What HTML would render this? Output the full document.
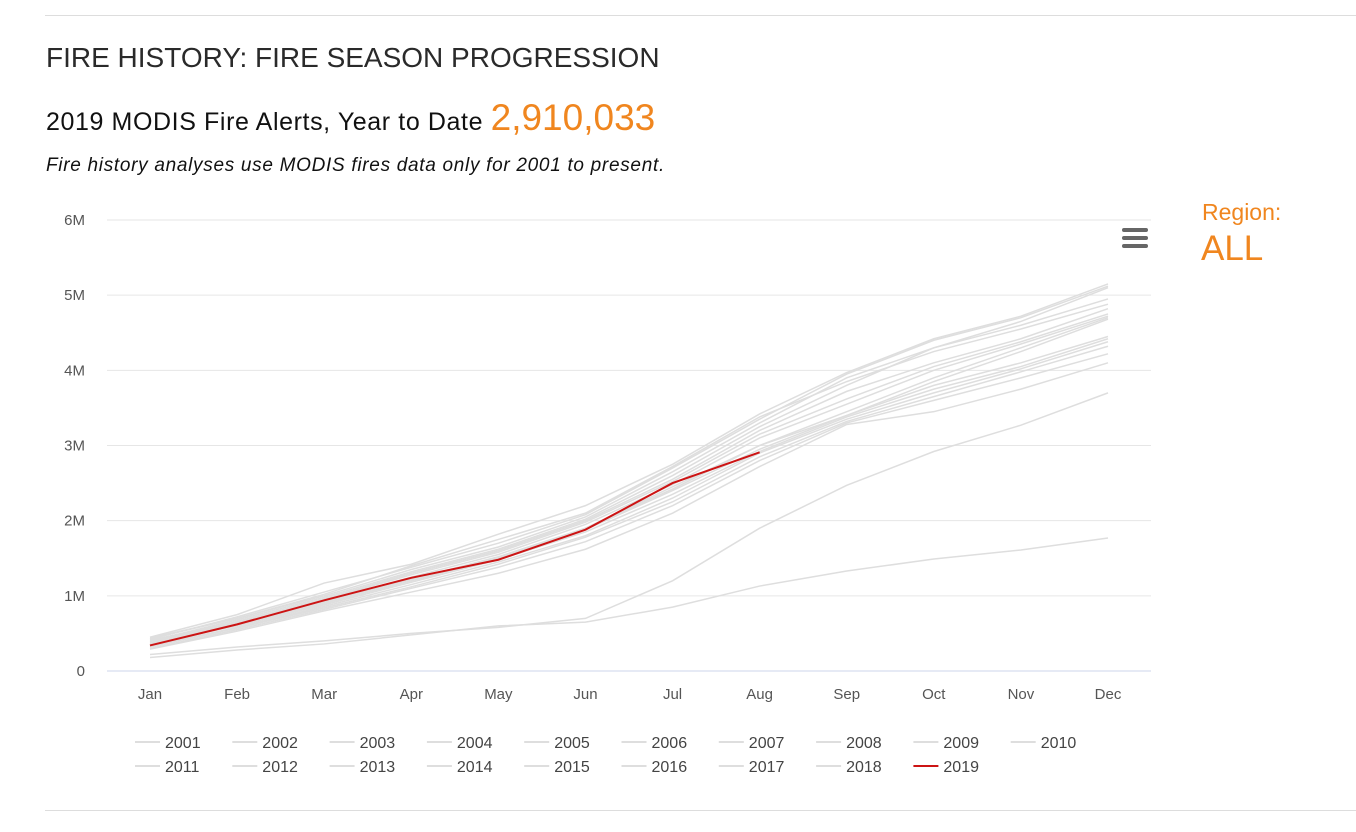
<!DOCTYPE html>
<html><head><meta charset="utf-8"><style>
body{margin:0;width:1356px;height:832px;background:#fff;font-family:"Liberation Sans",sans-serif;position:relative;overflow:hidden}
.abs{position:absolute;white-space:nowrap}
</style></head><body>
<div class="abs" style="left:45px;top:15px;width:1311px;height:1px;background:#ddd"></div>
<div class="abs" style="left:46px;top:42px;font-size:28px;color:#2a2a2a;letter-spacing:0px">FIRE HISTORY: FIRE SEASON PROGRESSION</div>
<div class="abs" style="left:46px;top:97px;font-size:25px;color:#111;letter-spacing:0.6px">2019 MODIS Fire Alerts, Year to Date <span style="color:#f0861f;font-size:37px;letter-spacing:0">2,910,033</span></div>
<div class="abs" style="left:46px;top:155px;font-size:19px;font-style:italic;color:#111;letter-spacing:0.7px">Fire history analyses use MODIS fires data only for 2001 to present.</div>
<div class="abs" style="left:1202px;top:199px;font-size:23px;color:#f0861f">Region:</div>
<div class="abs" style="left:1201px;top:229px;font-size:35px;color:#f0861f">ALL</div>
<div class="abs" style="left:45px;top:810px;width:1311px;height:1px;background:#ddd"></div>
<svg id="chart" class="abs" style="left:0;top:0" width="1356" height="832"></svg>
<script>
const months=["Jan","Feb","Mar","Apr","May","Jun","Jul","Aug","Sep","Oct","Nov","Dec"];
const yTicks=[0,1,2,3,4,5,6];
const yTickLabels=["0","1M","2M","3M","4M","5M","6M"];
const years=["2001","2002","2003","2004","2005","2006","2007","2008","2009","2010","2011","2012","2013","2014","2015","2016","2017","2018","2019"];
const s2001=[.18,.28,.36,.48,.6,.65,.85,1.13,1.33,1.49,1.61,1.77];
const s2002=[.22,.32,.4,.5,.58,.7,1.2,1.9,2.47,2.92,3.27,3.7];
const s2003=[.45,.75,1.17,1.42,1.82,2.2,2.75,3.42,3.97,4.42,4.72,5.15];
const s2004=[.42,.72,1.05,1.38,1.7,2.08,2.7,3.35,3.95,4.4,4.7,5.12];
const s2005=[.44,.70,1.0,1.35,1.65,2.05,2.65,3.3,3.9,4.3,4.65,5.1];
const s2006=[.40,.68,.98,1.32,1.62,2.02,2.6,3.25,3.8,4.3,4.6,4.95];
const s2007=[.38,.66,.96,1.3,1.6,2.0,2.55,3.2,3.72,4.1,4.42,4.82];
const s2008=[.41,.65,.95,1.28,1.58,1.98,2.52,3.15,3.62,4.05,4.38,4.75];
const s2009=[.36,.64,.93,1.25,1.55,1.95,2.48,3.1,3.55,4.0,4.35,4.72];
const s2010=[.39,.63,.92,1.22,1.52,1.9,2.42,3.0,3.45,3.9,4.3,4.7];
const s2011=[.35,.62,.90,1.2,1.5,1.88,2.4,2.95,3.4,3.8,4.1,4.45];
const s2012=[.37,.60,.88,1.18,1.48,1.85,2.35,2.92,3.38,3.75,4.05,4.42];
const s2013=[.33,.58,.86,1.15,1.45,1.8,2.3,2.9,3.35,3.7,4.02,4.38];
const s2014=[.32,.57,.84,1.12,1.42,1.78,2.25,2.85,3.32,3.65,3.98,4.32];
const s2015=[.30,.55,.82,1.1,1.38,1.72,2.2,2.8,3.3,3.6,3.9,4.22];
const s2016=[.29,.53,.8,1.05,1.3,1.62,2.1,2.72,3.28,3.45,3.75,4.1];
const s2017=[.43,.70,1.02,1.4,1.75,2.1,2.72,3.38,3.85,4.25,4.55,4.88];
const s2018=[.34,.61,.9,1.2,1.5,1.9,2.45,3.0,3.4,3.85,4.25,4.68];
const s2019=[.34,.62,.94,1.24,1.48,1.88,2.5,2.91];
const series=[s2001,s2002,s2003,s2004,s2005,s2006,s2007,s2008,s2009,s2010,s2011,s2012,s2013,s2014,s2015,s2016,s2017,s2018,s2019];
const NS="http://www.w3.org/2000/svg";
const svg=document.getElementById('chart');
const X=i=>150+i*(1108-150)/11;
const Y=v=>671-v*(671-220)/6;
function mk(t,a,p){const e=document.createElementNS(NS,t);for(const k in a)e.setAttribute(k,a[k]);(p||svg).appendChild(e);return e;}
yTicks.forEach((v,i)=>{
 const g=mk('line',{x1:107,x2:1151,y1:Y(v),y2:Y(v),stroke:v===0?'#ccd6eb':'#e6e6e6','stroke-width':1});
 
 
 const t=mk('text',{x:85,y:Y(v)+5,'text-anchor':'end','font-size':15,fill:'#555','font-family':'Liberation Sans, sans-serif'});
 t.textContent=yTickLabels[i];
 
 
});
months.forEach((m,i)=>{
 const t=mk('text',{x:X(i),y:699,'text-anchor':'middle','font-size':15,fill:'#555','font-family':'Liberation Sans, sans-serif'});
 t.textContent=m;
 
 
});
series.forEach((s,k)=>{
 const red=k===series.length-1;
 const p=mk('polyline',{points:s.map((v,i)=>X(i)+','+Y(v)).join(' '),fill:'none',stroke:red?'#cc1414':'#dedede','stroke-width':red?2:1.5});
 
 
});
years.forEach((yr,k)=>{
 const col=k%10,row=Math.floor(k/10);
 const x=135+col*97.3,y=742+row*24;
 const g=mk('g',{});
 
 
 mk('line',{x1:x,x2:x+25,y1:y,y2:y,stroke:k===18?'#cc1414':'#dedede','stroke-width':2},g);
 const t=mk('text',{x:x+30,y:y+6,'font-size':16,fill:'#444','font-family':'Liberation Sans, sans-serif'},g);
 t.textContent=yr;
});
const menu=mk('g',{});


[230,238,246].forEach(y=>mk('rect',{x:1122,y:y-2,width:26,height:4,rx:2,fill:'#666'},menu));
</script>
</body></html>
